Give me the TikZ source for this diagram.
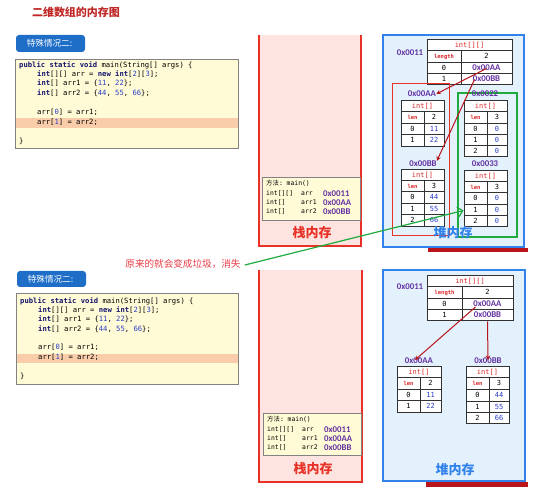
\documentclass[tikz,border=0pt]{standalone}
\usepackage{fontspec}
\setmainfont{Liberation Sans}
\setsansfont{Carlito}
\setmonofont{DejaVu Sans Mono}
\newfontfamily\cjk{Noto Sans CJK SC}
\usetikzlibrary{arrows.meta,calc}
\definecolor{titlered}{RGB}{192,40,40}
\definecolor{btnblue}{RGB}{30,110,200}
\definecolor{codefill}{RGB}{255,251,214}
\definecolor{codeedge}{RGB}{130,130,130}
\definecolor{hilite}{RGB}{250,205,170}
\definecolor{kwc}{RGB}{20,20,110}
\definecolor{numc}{RGB}{40,60,200}
\definecolor{stackfill}{RGB}{253,228,224}
\definecolor{stackred}{RGB}{232,50,40}
\definecolor{heapfill}{RGB}{227,241,253}
\definecolor{heapblue}{RGB}{50,130,235}
\definecolor{addrpurple}{RGB}{100,50,160}
\definecolor{txtred}{RGB}{220,40,40}
\definecolor{garbgreen}{RGB}{30,170,60}
\definecolor{cellline}{RGB}{50,50,50}
\definecolor{darkred}{RGB}{185,20,25}
\definecolor{notered}{RGB}{230,60,70}
\newcommand\hd[1]{\textcolor{txtred}{#1}}
\newcommand\lenl[1]{{\fontsize{5.5}{5.5}\selectfont\bfseries\textcolor{txtred}{#1}}}
\newcommand\tadr[1]{{\sffamily\bfseries\fontsize{8.8}{8.8}\selectfont\textcolor{addrpurple}{#1}}}
\newcommand\bnum[1]{\textcolor{numc}{#1}}
\newcommand\kw[1]{\textbf{\textcolor{kwc}{#1}}}
\newcommand\nm[1]{\textcolor{numc}{#1}}
\newcommand\hrow[6]{\node[cell,minimum width={(#3-#2)*1pt},minimum height={(#5-#4)*1pt}] (#1) at ({(#2+#3)/2},{(#4+#5)/2}) {#6};}
\newcommand\trow[8]{%
 \node[cell,minimum width={(#3-#2)*1pt},minimum height={(#6-#5)*1pt}] (#1l) at ({(#2+#3)/2},{(#5+#6)/2}) {#7};%
 \node[cell,minimum width={(#4-#3)*1pt},minimum height={(#6-#5)*1pt}] (#1r) at ({(#3+#4)/2},{(#5+#6)/2}) {#8};}
\tikzset{
 cell/.style={draw=cellline, line width=1pt, fill=white, inner sep=0pt, text height=5pt, text depth=1.2pt, font=\ttfamily\fontsize{7}{7}\selectfont},
 codeline/.style={anchor=west, inner sep=0pt, text height=5.2pt, text depth=1.3pt, font=\ttfamily\fontsize{7.2}{8}\selectfont},
 codebox/.style={draw=codeedge, line width=0.9pt, fill=codefill},
 btn/.style={fill=btnblue, rounded corners=3pt, draw=none},
 btntext/.style={text=white, font=\cjk\fontsize{8.6}{8.6}\selectfont, inner sep=0pt},
 stkfill/.style={fill=stackfill, draw=none},
 stkedge/.style={draw=stackred, line width=1.4pt},
 heapbox/.style={fill=heapfill, draw=heapblue, line width=1.5pt},
 stk/.style={anchor=west, inner sep=0pt, text height=4.8pt, text depth=1.2pt, font=\ttfamily\fontsize{6.4}{7}\selectfont},
 stkadr/.style={anchor=west, inner sep=0pt, text height=5.5pt, text depth=0.5pt, font=\sffamily\bfseries\fontsize{8.8}{9}\selectfont, text=addrpurple},
 adrlbl/.style={inner sep=0pt, font=\sffamily\bfseries\fontsize{8.8}{9}\selectfont, text=addrpurple},
 memlbl/.style={inner sep=0pt, font=\cjk\bfseries\fontsize{13}{13}\selectfont},
 redarrow/.style={draw=darkred, line width=1pt, -{Stealth[length=4.5pt,width=4.5pt]}},
 greenarrow/.style={draw=garbgreen, line width=1.2pt, -{Straight Barb[length=5pt,width=10pt]}},
}
\begin{document}
\begin{tikzpicture}[x=1pt,y=-1pt]
\useasboundingbox (0,0) rectangle (542,500);
% title
\node[inner sep=0pt, font=\cjk\bfseries\fontsize{11}{11}\selectfont, text=titlered] (title) at (76,12) {二维数组的内存图};

% ================= TOP PANEL =================
\draw[btn] (16,35) rectangle (85,52);
\node[btntext] (btn1) at (49.5,43.5) {特殊情况二:};
\draw[codebox] (15,59) rectangle (238,148);
\fill[hilite] (15.5,118) rectangle (237.5,128);
\node[codeline] (ta1) at (19,66) {\kw{public static void} main(String[] args) \{};
\node[codeline] (ta2) at (37,75) {\kw{int}[][] arr = \kw{new} \kw{int}[\nm{2}][\nm{3}];};
\node[codeline] (ta3) at (37,84) {\kw{int}[] arr1 = \{\nm{11}, \nm{22}\};};
\node[codeline] (ta4) at (37,94) {\kw{int}[] arr2 = \{\nm{44}, \nm{55}, \nm{66}\};};
\node[codeline] (ta5) at (37,113) {arr[\nm{0}] = arr1;};
\node[codeline] (ta6) at (37,123) {arr[\nm{1}] = arr2;};
\node[codeline] (ta7) at (19,142) {\}};

% stack
\fill[stkfill] (259,35) rectangle (361,246);
\draw[stkedge] (259,35) -- (259,246) -- (361,246) -- (361,35);
\draw[codebox] (262,177) rectangle (360,220);
\node[stk] (s1a) at (266,184) {{\cjk 方法}: main()};
\node[stk] (s2a) at (266,194) {int[][]};
\node[stk] (s2b) at (301,194) {arr};
\node[stkadr] (s2c) at (323,194) {0x0011};
\node[stk] (s3a) at (266,203) {int[]};
\node[stk] (s3b) at (301,203) {arr1};
\node[stkadr] (s3c) at (323,203) {0x00AA};
\node[stk] (s4a) at (266,212) {int[]};
\node[stk] (s4b) at (301,212) {arr2};
\node[stkadr] (s4c) at (323,212) {0x00BB};
\node[memlbl, text=stackred] (stk1) at (312,233) {栈内存};

% heap
\draw[heapbox] (383,35) rectangle (524,247);
\fill[darkred] (428,248) rectangle (528,252);
\node[adrlbl] (lA) at (410,53) {0x0011};
\hrow{tAh}{427}{512}{40}{51}{\hd{int[][]}}
\trow{tAn}{427}{461}{512}{51}{63}{\lenl{length}}{2}
\trow{tA0}{427}{461}{512}{63}{74}{0}{\tadr{0x00AA}}
\trow{tA1}{427}{461}{512}{74}{85}{1}{\tadr{0x00BB}}
\draw[draw=stackred, line width=1pt] (392,84) rectangle (449,236);
\draw[draw=garbgreen, line width=1.4pt] (458,93) rectangle (517,237);
% 0x00AA
\node[adrlbl] (lB) at (422,94) {0x00AA};
\hrow{tBh}{401}{444}{101}{112}{\hd{int[]}}
\trow{tBn}{401}{424}{444}{112}{124}{\lenl{len}}{2}
\trow{tB0}{401}{424}{444}{124}{135}{0}{\bnum{11}}
\trow{tB1}{401}{424}{444}{135}{147}{1}{\bnum{22}}
% 0x0022
\node[adrlbl] (lC) at (485,94) {0x0022};
\hrow{tCh}{464}{507}{101}{112}{\hd{int[]}}
\trow{tCn}{464}{487}{507}{112}{124}{\lenl{len}}{3}
\trow{tC0}{464}{487}{507}{124}{135}{0}{\bnum{0}}
\trow{tC1}{464}{487}{507}{135}{146}{1}{\bnum{0}}
\trow{tC2}{464}{487}{507}{146}{157}{2}{\bnum{0}}
% 0x00BB
\node[adrlbl] (lD) at (423,164) {0x00BB};
\hrow{tDh}{401}{444}{170}{181}{\hd{int[]}}
\trow{tDn}{401}{424}{444}{181}{192}{\lenl{len}}{3}
\trow{tD0}{401}{424}{444}{192}{204}{0}{\bnum{44}}
\trow{tD1}{401}{424}{444}{204}{215}{1}{\bnum{55}}
\trow{tD2}{401}{424}{444}{215}{227}{2}{\bnum{66}}
% 0x0033
\node[adrlbl] (lE) at (485,164) {0x0033};
\hrow{tEh}{464}{507}{171}{182}{\hd{int[]}}
\trow{tEn}{464}{487}{507}{182}{193}{\lenl{len}}{3}
\trow{tE0}{464}{487}{507}{193}{205}{0}{\bnum{0}}
\trow{tE1}{464}{487}{507}{205}{216}{1}{\bnum{0}}
\trow{tE2}{464}{487}{507}{216}{227}{2}{\bnum{0}}
\node[memlbl, text=heapblue] (heap1) at (453,233) {堆内存};
\draw[redarrow] (tA0r.center) -- (lB.east);
\draw[redarrow] ($(tA1r.center)+(-12,0)$) -- (lD.north east);

% note
\node[inner sep=0pt, font=\cjk\fontsize{9.6}{10}\selectfont, text=notered] (note) at (183,264) {原来的就会变成垃圾，消失};

% ================= BOTTOM PANEL =================
\draw[btn] (17,271) rectangle (86,287);
\node[btntext] (btn2) at (50.5,279) {特殊情况二:};
\draw[codebox] (16,293) rectangle (238,384);
\fill[hilite] (16.5,354) rectangle (237.5,363);
\node[codeline] (tb1) at (20,302) {\kw{public static void} main(String[] args) \{};
\node[codeline] (tb2) at (38,311) {\kw{int}[][] arr = \kw{new} \kw{int}[\nm{2}][\nm{3}];};
\node[codeline] (tb3) at (38,320) {\kw{int}[] arr1 = \{\nm{11}, \nm{22}\};};
\node[codeline] (tb4) at (38,330) {\kw{int}[] arr2 = \{\nm{44}, \nm{55}, \nm{66}\};};
\node[codeline] (tb5) at (38,348) {arr[\nm{0}] = arr1;};
\node[codeline] (tb6) at (38,358) {arr[\nm{1}] = arr2;};
\node[codeline] (tb7) at (20,377) {\}};

% stack
\fill[stkfill] (259,270) rectangle (362,482);
\draw[stkedge] (259,270) -- (259,482) -- (362,482) -- (362,270);
\draw[codebox] (263,413) rectangle (361,455);
\node[stk] (u1a) at (267,420) {{\cjk 方法}: main()};
\node[stk] (u2a) at (267,430) {int[][]};
\node[stk] (u2b) at (302,430) {arr};
\node[stkadr] (u2c) at (324,430) {0x0011};
\node[stk] (u3a) at (267,439) {int[]};
\node[stk] (u3b) at (302,439) {arr1};
\node[stkadr] (u3c) at (324,439) {0x00AA};
\node[stk] (u4a) at (267,448) {int[]};
\node[stk] (u4b) at (302,448) {arr2};
\node[stkadr] (u4c) at (324,448) {0x00BB};
\node[memlbl, text=stackred] (stk2) at (313,469) {栈内存};

% heap
\draw[heapbox] (383,270) rectangle (525,481);
\fill[darkred] (426,482) rectangle (528,487);
\node[adrlbl] (blA) at (410,287) {0x0011};
\hrow{bAh}{427}{513}{276}{287}{\hd{int[][]}}
\trow{bAn}{427}{462}{513}{287}{299}{\lenl{length}}{2}
\trow{bA0}{427}{462}{513}{299}{310}{0}{\tadr{0x00AA}}
\trow{bA1}{427}{462}{513}{310}{321}{1}{\tadr{0x00BB}}
\node[adrlbl] (blB) at (419,361) {0x00AA};
\hrow{bBh}{397}{441}{367}{378}{\hd{int[]}}
\trow{bBn}{397}{420}{441}{378}{390}{\lenl{len}}{2}
\trow{bB0}{397}{420}{441}{390}{401}{0}{\bnum{11}}
\trow{bB1}{397}{420}{441}{401}{413}{1}{\bnum{22}}
\node[adrlbl] (blC) at (488,361) {0x00BB};
\hrow{bCh}{466}{509}{367}{378}{\hd{int[]}}
\trow{bCn}{466}{489}{509}{378}{390}{\lenl{len}}{3}
\trow{bC0}{466}{489}{509}{390}{402}{0}{\bnum{44}}
\trow{bC1}{466}{489}{509}{402}{413}{1}{\bnum{55}}
\trow{bC2}{466}{489}{509}{413}{424}{2}{\bnum{66}}
\node[memlbl, text=heapblue] (heap2) at (455,470) {堆内存};
\draw[redarrow] ($(bA0r.center)+(-12,2.5)$) -- ($(blB.center)+(-4,-1)$);
\draw[redarrow] (bA1r.south) -- ($(blC.center)+(0,-1)$);

% garbage pointer
\draw[greenarrow] ($(note.east)+(4,1)$) -- (tE1l.west);
\end{tikzpicture}
\end{document}
